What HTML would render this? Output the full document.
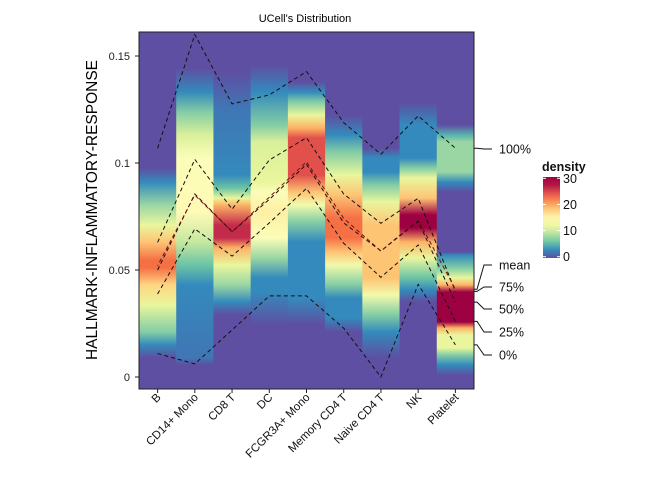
<!DOCTYPE html>
<html><head><meta charset="utf-8"><style>
body{margin:0;background:#fff;font-family:"Liberation Sans",sans-serif;}
svg text{font-family:"Liberation Sans",sans-serif;}
</style></head><body>
<svg id="chart" width="672" height="480" viewBox="0 0 672 480" xmlns="http://www.w3.org/2000/svg">
<defs id="defs"></defs>
<text x="305" y="22" font-size="11" text-anchor="middle">UCell's Distribution</text>
<text transform="translate(97,210) rotate(-90)" font-size="15.5" text-anchor="middle">HALLMARK-INFLAMMATORY-RESPONSE</text>
<g id="cols"></g>
<g id="lines"></g>
<rect x="139" y="32" width="335" height="357" fill="none" stroke="#222" stroke-width="1"/>
<g id="axes"></g>
<g id="labels"></g>
<g id="legend"></g>
</svg>
<script>
const categories=["B","CD14+ Mono","CD8 T","DC","FCGR3A+ Mono","Memory CD4 T","Naive CD4 T","NK","Platelet"];
const yTicks=[0,0.05,0.1,0.15];
const yTickLabels=["0","0.05","0.1","0.15"];
const q100=[0.1069,0.160,0.1276,0.1318,0.1427,0.1189,0.1041,0.122,0.1069];
const q75=[0.0629,0.1017,0.0784,0.1014,0.1118,0.0855,0.0718,0.0835,0.040];
const qMean=[0.052,0.085,0.0679,0.084,0.1006,0.0741,0.0589,0.0734,0.041];
const q50=[0.050,0.0855,0.0679,0.083,0.0994,0.072,0.0589,0.0728,0.035];
const q25=[0.0388,0.0692,0.0565,0.072,0.0882,0.0625,0.0466,0.0617,0.026];
const q0=[0.011,0.0061,0.022,0.0379,0.0379,0.0228,0.0,0.0433,0.015];
const densB=[[0.0977,0],[0.0911,3],[0.0804,8],[0.071,12],[0.063,19],[0.0547,23],[0.051,23],[0.043,18],[0.0336,12],[0.021,7],[0.015,3],[0.0089,0]];
const densCD14=[[0.1444,0],[0.1332,3],[0.1238,7],[0.1131,11],[0.1023,14],[0.0771,15],[0.0631,10],[0.0523,6],[0.043,3],[0.0089,2],[0.0056,0]];
const densCD8=[[0.1425,0],[0.1257,2],[0.0944,3],[0.0883,6],[0.0836,12],[0.0804,20],[0.071,27],[0.065,27],[0.0603,20],[0.0523,12],[0.043,8],[0.035,3],[0.029,0]];
const densDC=[[0.1458,0],[0.1332,3],[0.1178,7],[0.1098,11],[0.0911,12],[0.0864,14],[0.0771,16],[0.065,14],[0.0556,8],[0.0463,3],[0.0397,3],[0.0243,0]];
const densFCGR=[[0.1379,0],[0.1332,3],[0.1285,7],[0.1224,12],[0.1164,20],[0.1117,25],[0.0944,25],[0.0864,19],[0.0804,13],[0.0724,7],[0.0631,3],[0.0369,3],[0.0243,0]];
const densMem=[[0.1224,0],[0.1131,3],[0.1051,7],[0.0944,12],[0.085,19],[0.0743,23],[0.065,23],[0.0584,19],[0.0523,13],[0.043,7],[0.0369,3],[0.0276,3],[0.021,0]];
const densNaive=[[0.107,0],[0.1023,3],[0.0958,3],[0.0897,7],[0.0818,12],[0.071,19],[0.0463,19],[0.0383,13],[0.029,7],[0.021,3],[0.0089,0]];
const densNK=[[0.1285,0],[0.1178,3],[0.1023,3],[0.0977,7],[0.093,12],[0.0836,19],[0.0757,30],[0.0696,30],[0.0631,20],[0.0556,12],[0.0463,6],[0.0407,3],[0.035,0]];
const densPlt=[[0.1178,0],[0.1131,5],[0.1098,8],[0.0958,8],[0.0911,3],[0.0864,0],[0.0584,0],[0.057,3],[0.0509,7],[0.0463,12],[0.043,20],[0.0397,32],[0.0257,32],[0.0229,20],[0.0196,12],[0.0136,12],[0.0103,7],[0.0056,3],[0.0009,0]];
const densities=[densB,densCD14,densCD8,densDC,densFCGR,densMem,densNaive,densNK,densPlt];
const legendTicks=[0,10,20,30];
const qLabels=["100%","mean","75%","50%","25%","0%"];

const NS="http://www.w3.org/2000/svg";
const X0=139,X1=474,Y0=32,Y1=389;
const colW=(X1-X0)/categories.length;
const xC=i=>X0+colW*(i+0.5);
const yS=v=>377-v*2140;
const spec=["#5E4FA2","#3288BD","#66C2A5","#ABDDA4","#E6F598","#FFFFBF","#FEE08B","#FDAE61","#F46D43","#D53E4F","#9E0142"];
const DMAX=29;
function col(d){let t=Math.max(0,Math.min(1,d/DMAX))*(spec.length-1);let i=Math.min(Math.floor(t),spec.length-2),f=t-i;
 const a=parseInt(spec[i].slice(1),16),b=parseInt(spec[i+1].slice(1),16);
 const c=s=>Math.round(((a>>s)&255)*(1-f)+((b>>s)&255)*f);return `rgb(${c(16)},${c(8)},${c(0)})`;}
function mk(tag,attrs,parent){const e=document.createElementNS(NS,tag);for(const k in attrs)e.setAttribute(k,attrs[k]);parent.appendChild(e);return e;}
const defs=document.getElementById('defs'),cols=document.getElementById('cols');
mk('rect',{x:X0,y:Y0,width:X1-X0,height:Y1-Y0,fill:spec[0]},cols);
densities.forEach((dens,i)=>{
 const g=mk('linearGradient',{id:'g'+i,x1:0,y1:Y0,x2:0,y2:Y1,gradientUnits:'userSpaceOnUse'},defs);
 const pts=dens.map(([v,d])=>[yS(v),d]).sort((a,b)=>a[0]-b[0]);
 pts.forEach(([y,d])=>{mk('stop',{offset:((y-Y0)/(Y1-Y0)).toFixed(4),'stop-color':col(d)},g);});
 const r=mk('rect',{x:X0+colW*i,y:Y0,width:colW+0.3,height:Y1-Y0,fill:'url(#g'+i+')'},cols);
 
 
});
const lines=document.getElementById('lines');
const series=[["q100",q100],["q75",q75],["q50",q50],["mean",qMean],["q25",q25],["q0",q0]];
series.forEach(([n,arr])=>{
 const p=mk('polyline',{points:arr.map((v,i)=>xC(i).toFixed(1)+','+yS(v).toFixed(1)).join(' '),fill:'none',stroke:n==='mean'?'#7a1010':'#111','stroke-width':1,'stroke-dasharray':'4,3','stroke-dashoffset':n==='mean'?3:0},lines);
 
 
});
const axes=document.getElementById('axes');
yTicks.forEach((v,i)=>{
 mk('line',{x1:135,x2:139,y1:yS(v),y2:yS(v),stroke:'#222'},axes);
 const t=mk('text',{x:130,y:yS(v)+4,'font-size':11,'text-anchor':'end',fill:'#222'},axes);t.textContent=yTickLabels[i];
 
 
});
categories.forEach((c,i)=>{
 mk('line',{x1:xC(i),x2:xC(i),y1:389,y2:393,stroke:'#222'},axes);
 const t=mk('text',{transform:`translate(${xC(i)+4},${398}) rotate(-45)`,'font-size':11.5,'text-anchor':'end',fill:'#111'},axes);t.textContent=c;
 
 
});
const lab=document.getElementById('labels');
const last=categories.length-1;
const anchors=[q100[last],qMean[last],q75[last],q50[last],q25[last],q0[last]];
const labY=[149,265,287,309,332,355];
qLabels.forEach((s,i)=>{
 const ya=yS(anchors[i]);
 mk('polyline',{points:`${X1},${ya} ${X1+3},${ya} ${X1+10},${labY[i]} ${X1+18},${labY[i]}`,fill:'none',stroke:'#111','stroke-width':1},lab);
 const t=mk('text',{x:X1+25,y:labY[i]+4.5,'font-size':12.5,fill:'#111'},lab);t.textContent=s;
 
 
});
const lg=document.getElementById('legend');
const t0=mk('text',{x:542,y:171,'font-size':12.5,'font-weight':'bold',fill:'#111'},lg);t0.textContent='density';
const lgr=mk('linearGradient',{id:'lgrad',x1:0,y1:1,x2:0,y2:0},defs);
const LB=258,LT=177,LMAX=31;
for(let k=0;k<=10;k++)mk('stop',{offset:k/10,'stop-color':col(k/10*LMAX)},lgr);
mk('rect',{x:543,y:LT,width:17,height:LB-LT,fill:'url(#lgrad)'},lg);
legendTicks.forEach(v=>{
 const y=LB-(v+0.5)/LMAX*(LB-LT);
 mk('line',{x1:543,x2:546,y1:y,y2:y,stroke:'#fff'},lg);
 mk('line',{x1:557,x2:560,y1:y,y2:y,stroke:'#fff'},lg);
 const t=mk('text',{x:563,y:y+4.5,'font-size':12.5,fill:'#111'},lg);t.textContent=v;
 
 
});
</script>
</body></html>
